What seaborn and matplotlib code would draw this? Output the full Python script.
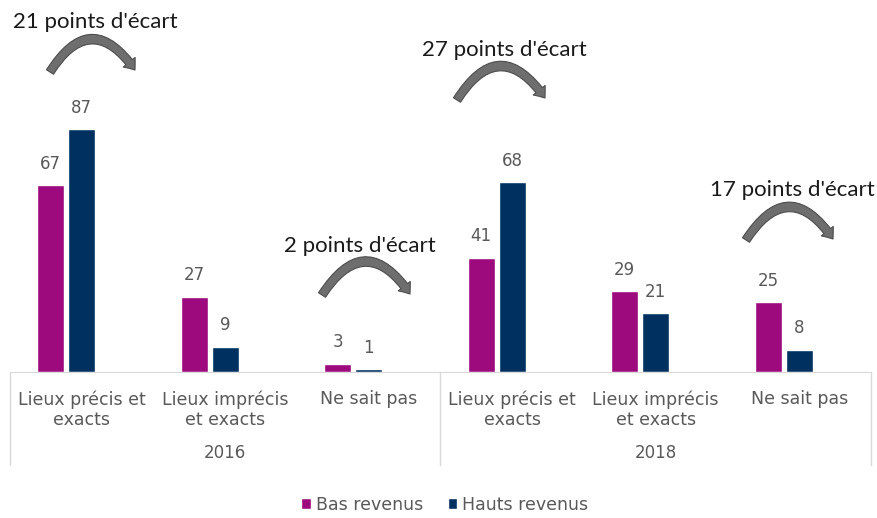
import pandas as pd
import seaborn as sns
import matplotlib.pyplot as plt
from matplotlib.patches import FancyArrowPatch

# Données
years = ["2016", "2018"]
categories = ["Lieux précis et\nexacts", "Lieux imprécis\net exacts", "Ne sait pas"]
series = ["Bas revenus", "Hauts revenus"]
bas_revenus = [67, 27, 3, 41, 29, 25]
hauts_revenus = [87, 9, 1, 68, 21, 8]
ecarts = ["21 points d'écart", "2 points d'écart", "27 points d'écart", "17 points d'écart"]

colors = {"Bas revenus": "#9C0A7D", "Hauts revenus": "#00305F", "_vide": "white"}
text_grey = "#595959"
line_grey = "#D9D9D9"

keys = [f"{y}|{c}" for y in years for c in categories]
rows = []
for k, b, h in zip(keys, bas_revenus, hauts_revenus):
    rows.append((k, "Bas revenus", b))
    rows.append((k, "Hauts revenus", h))
df = pd.DataFrame(rows, columns=["cle", "serie", "valeur"])

sns.set_style("white")
plt.rcParams['font.family'] = ['DejaVu Sans']

fig = plt.figure(figsize=(8.78, 5.18), dpi=100)
ax = fig.add_axes([10 / 878, 146 / 518, 861 / 878, 372 / 518])

sns.barplot(data=df, x="cle", y="valeur", hue="serie", order=keys,
            hue_order=["Bas revenus", "Hauts revenus", "_vide"],
            palette=colors, saturation=1, width=0.65, gap=0.13,
            legend=False, ax=ax)

for cont in ax.containers[:2]:
    ax.bar_label(cont, fmt="%g", padding=9, fontsize=12, color=text_grey)

ax.set_ylim(0, 372 / 2.79)
ax.set_xlim(-0.5, len(keys) - 0.5)
ax.set_yticks([])
ax.set_xlabel("")
ax.set_ylabel("")
ax.set_xticks(range(len(keys)))
ax.set_xticklabels([k.split("|")[1] for k in keys], fontsize=12.5, color=text_grey,
                   linespacing=1.2)
ax.tick_params(axis="x", length=0, pad=13)
for s in ["left", "top", "right"]:
    ax.spines[s].set_visible(False)
ax.spines["bottom"].set_color(line_grey)

# séparateurs et années
sep_y = -(465 - 372) / 372
for xs in [-0.5, 2.5, 5.5]:
    ax.plot([xs, xs], [0, sep_y], transform=ax.get_xaxis_transform(),
            color=line_grey, lw=1, clip_on=False)
for i, y in enumerate(years):
    ax.text(1 + 3 * i, -(453 - 372) / 372, y, transform=ax.get_xaxis_transform(),
            ha="center", va="center", fontsize=12, color=text_grey)

# flèches « points d'écart » (positions en pixels de la figure)
H = 518
arrows = [
    (95, 22, 50, 72, 135, 70),
    (360, 246, 322, 295, 410, 294),
    (504, 50, 457, 100, 545, 98),
    (792, 190, 746, 240, 833, 239),
]
for txt, (tx, ty, x1, y1, x2, y2) in zip(ecarts, arrows):
    fig.text(tx / 878, 1 - ty / H, txt, ha="center", va="center",
             fontsize=16, family=["Lato", "DejaVu Sans"], color="#1a1a1a")
    arr = FancyArrowPatch((x1, H - y1), (x2, H - y2),
                          connectionstyle="arc3,rad=-0.75",
                          arrowstyle="simple,head_width=11,head_length=7,tail_width=6",
                          shrinkA=0, shrinkB=0,
                          transform=None, facecolor="#6e6e6e", edgecolor="#4d4d4d",
                          lw=0.8)
    fig.add_artist(arr)

fig.legend(handles=ax.containers[:2], labels=series, loc="lower center",
           bbox_to_anchor=(445 / 878, -0.022), ncol=2, frameon=False,
           fontsize=12.5, labelcolor=text_grey, handlelength=0.55, handleheight=0.55,
           handletextpad=0.3, columnspacing=1.4)

fig.savefig("out.png", dpi=100)
